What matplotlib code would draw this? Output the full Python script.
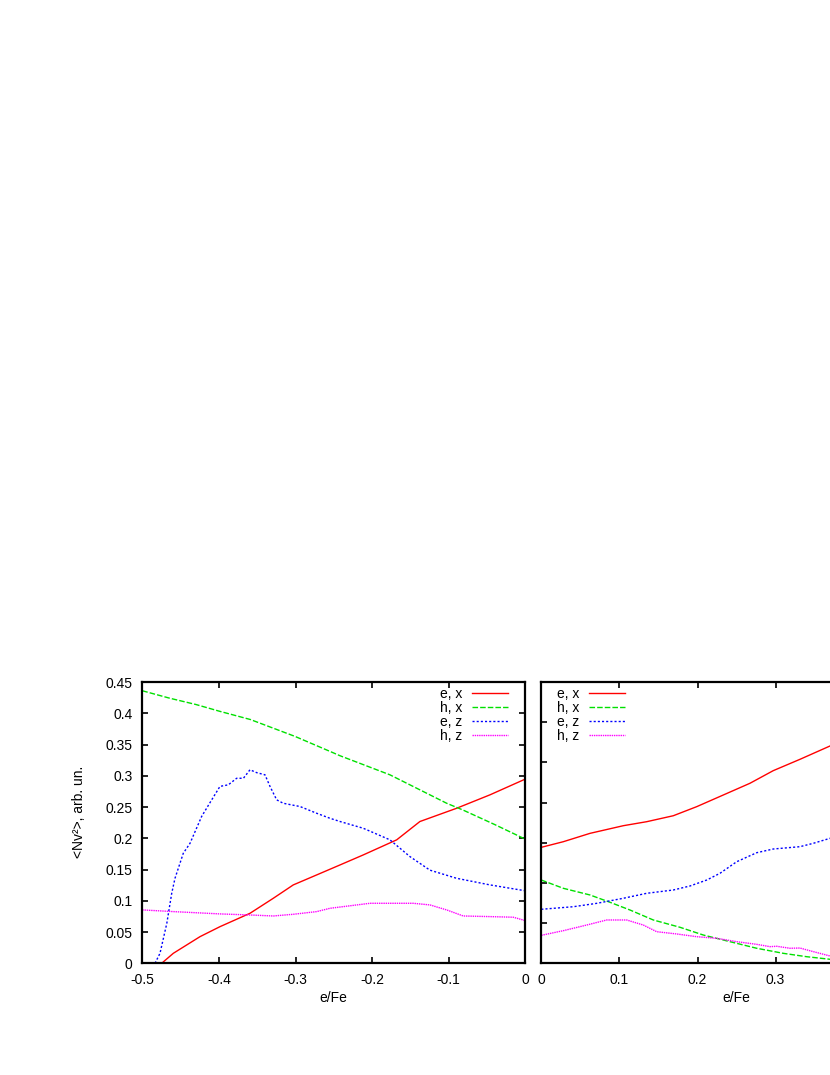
import matplotlib
matplotlib.use("Agg")
import matplotlib.pyplot as plt

plt.rcParams["font.family"] = ["Liberation Sans", "DejaVu Sans"]
plt.rcParams["font.size"] = 10

# left panel (e/Fe < 0)
ex_l_x = [-0.4747, -0.4595, -0.4247, -0.3986, -0.3594, -0.329, -0.3029, -0.2723, -0.2418,
          -0.2115, -0.1679, -0.1376, -0.0897, -0.0461, 0.0]
ex_l_y = [0.0, 0.016, 0.0426, 0.0586, 0.080, 0.104, 0.1254, 0.1414, 0.1574,
          0.1734, 0.1975, 0.2268, 0.248, 0.2695, 0.2947]

hx_l_x = [-0.5, -0.464, -0.43, -0.3986, -0.359, -0.3007, -0.255, -0.2418, -0.1767,
          -0.1026, -0.081, -0.04, 0.0]
hx_l_y = [0.436, 0.424, 0.414, 0.403, 0.39, 0.363, 0.339, 0.332, 0.3015,
          0.256, 0.245, 0.222, 0.1986]

ez_l_x = [-0.4834, -0.4769, -0.468, -0.4616, -0.4573, -0.4465, -0.4377, -0.4225, -0.4094,
          -0.3986, -0.3877, -0.3768, -0.368, -0.3594, -0.3507, -0.3398, -0.3333, -0.3246,
          -0.316, -0.2941, -0.2723, -0.255, -0.2418, -0.2115, -0.1767, -0.1506, -0.1245,
          -0.0897, -0.0461, 0.0]
ez_l_y = [0.0, 0.016, 0.064, 0.112, 0.136, 0.176, 0.192, 0.235, 0.2615,
          0.283, 0.2855, 0.296, 0.296, 0.3096, 0.305, 0.3015, 0.283, 0.2615,
          0.256, 0.2508, 0.240, 0.232, 0.2268, 0.216, 0.1975, 0.1707, 0.149,
          0.136, 0.1254, 0.116]

hz_l_x = [-0.5, -0.4595, -0.3986, -0.3594, -0.329, -0.303, -0.2723, -0.255, -0.2028,
          -0.1463, -0.1245, -0.1027, -0.081, -0.046, -0.0157, 0.0]
hz_l_y = [0.0854, 0.0827, 0.079, 0.0773, 0.0757, 0.0784, 0.0827, 0.088, 0.096,
          0.096, 0.0934, 0.0854, 0.0757, 0.0747, 0.0737, 0.0683]

# right panel (e/Fe > 0)
ex_r_x = [0, 0.0282, 0.0624, 0.105, 0.135, 0.169, 0.199, 0.233, 0.2672, 0.297, 0.3312, 0.3697, 0.38]
ex_r_y = [0.1443, 0.1513, 0.1617, 0.1712, 0.1762, 0.1836, 0.1949, 0.2094, 0.224, 0.2397, 0.2538, 0.2704, 0.2755]

hx_r_x = [0, 0.0282, 0.0624, 0.088, 0.1136, 0.1434, 0.1776, 0.2074, 0.2416, 0.2758, 0.3099, 0.3398, 0.3697, 0.38]
hx_r_y = [0.1036, 0.0933, 0.085, 0.0759, 0.0663, 0.0539, 0.0448, 0.0352, 0.0269, 0.0187, 0.0124, 0.0082, 0.005, 0.004]

ez_r_x = [0, 0.041, 0.0709, 0.105, 0.135, 0.169, 0.1904, 0.2118, 0.2288, 0.2502, 0.2758, 0.297,
          0.3312, 0.3483, 0.3697, 0.38]
ez_r_y = [0.0672, 0.0704, 0.0746, 0.0809, 0.0871, 0.0912, 0.0962, 0.1036, 0.112, 0.1264, 0.1376, 0.1422,
          0.1451, 0.1493, 0.1555, 0.158]

hz_r_x = [0, 0.0282, 0.0581, 0.0837, 0.1093, 0.1306, 0.1478, 0.1734, 0.199, 0.2246, 0.2502, 0.2758,
          0.2928, 0.3014, 0.3184, 0.3312, 0.3483, 0.3697, 0.38]
hz_r_y = [0.0348, 0.0406, 0.0476, 0.0539, 0.0539, 0.0476, 0.0393, 0.0365, 0.0331, 0.0311, 0.0269, 0.0236,
          0.0207, 0.0212, 0.0187, 0.019, 0.0145, 0.0091, 0.007]

labels = ["e, x", "h, x", "e, z", "h, z"]
colors = ["#ff0000", "#00e000", "#0000ff", "#ff00ff"]
styles = ["-", (0, (4, 1.5)), (0, (1.5, 1.5)), (0, (1, 0.6))]

fig = plt.figure(figsize=(8.3, 10.75), dpi=100)
ax1 = fig.add_axes([142.3 / 830, 111.7 / 1075, 383 / 830, 281.3 / 1075])
ax2 = fig.add_axes([541.3 / 830, 111.7 / 1075, 390.5 / 830, 281.3 / 1075])

left = [(ex_l_x, ex_l_y), (hx_l_x, hx_l_y), (ez_l_x, ez_l_y), (hz_l_x, hz_l_y)]
right = [(ex_r_x, ex_r_y), (hx_r_x, hx_r_y), (ez_r_x, ez_r_y), (hz_r_x, hz_r_y)]

for (x, y), lab, c, ls in zip(left, labels, colors, styles):
    ax1.plot(x, y, color=c, linestyle=ls, linewidth=1.0, label=lab)
for (x, y), lab, c, ls in zip(right, labels, colors, styles):
    ax2.plot(x, y, color=c, linestyle=ls, linewidth=1.0, label=lab)

ax1.set_xlim(-0.5, 0)
ax1.set_ylim(0, 0.45)
ax1.set_xticks([-0.5, -0.4, -0.3, -0.2, -0.1, 0])
ax1.set_xticklabels(["-0.5", "-0.4", "-0.3", "-0.2", "-0.1", "0"])
ax1.set_yticks([0, 0.05, 0.1, 0.15, 0.2, 0.25, 0.3, 0.35, 0.4, 0.45])
ax1.set_yticklabels(["0", "0.05", "0.1", "0.15", "0.2", "0.25", "0.3", "0.35", "0.4", "0.45"])

# right panel runs past the edge of the page; its 0.4 and 0.5 labels are not shown
ax2.set_xlim(0, 0.5)
ax2.set_ylim(0, 0.35)
ax2.set_xticks([0, 0.1, 0.2, 0.3, 0.4, 0.5])
ax2.set_xticklabels(["0", "0.1", "0.2", "0.3", "", ""])
ax2.set_yticks([0, 0.05, 0.1, 0.15, 0.2, 0.25, 0.3, 0.35])
ax2.set_yticklabels([])

for ax in (ax1, ax2):
    for s in ax.spines.values():
        s.set_linewidth(1.6)
    ax.tick_params(direction="in", length=4, width=1.2, top=True, right=True, pad=7)
    ax.set_xlabel("e/Fe")
    ax.xaxis.set_label_coords(0.5, -0.098)

ax1.set_ylabel("<Nv²>, arb. un.")
ax1.yaxis.set_label_coords(-0.147, 0.54)

ax1.legend(loc="upper right", bbox_to_anchor=(0.955, 0.983), frameon=False, markerfirst=False,
           handlelength=2.6, handletextpad=0.72, labelspacing=0.0, borderpad=0, borderaxespad=0)
ax2.legend(loc="upper left", bbox_to_anchor=(0.04, 0.983), frameon=False, markerfirst=False,
           handlelength=2.6, handletextpad=0.72, labelspacing=0.0, borderpad=0, borderaxespad=0)

fig.savefig("out.png", dpi=100)
